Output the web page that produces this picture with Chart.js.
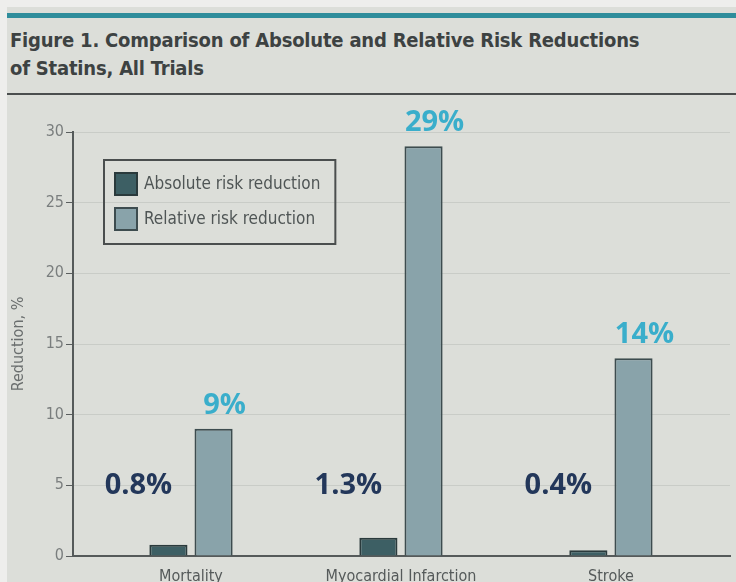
<!DOCTYPE html>
<html>
<head>
<meta charset="utf-8">
<script src="https://cdn.jsdelivr.net/npm/chart.js@4"></script>
<style>
  html, body { margin: 0; padding: 0; }
  body { width: 736px; height: 582px; background: #eeeeec; position: relative; overflow: hidden; }
  #panel { position: absolute; left: 7px; top: 7px; right: 0; bottom: 0; background: #dcded9; }
  #topbar { position: absolute; left: 7px; right: 0; top: 13px; height: 5px; background: #2f8d9b; }
  #title { position: absolute; left: 10px; top: 26px; margin: 0; white-space: nowrap; letter-spacing: -0.2px;
    font: bold 20px/28px "Liberation Sans Narrow", "DejaVu Sans Condensed", sans-serif; color: #3d4242; }
  #rule { position: absolute; left: 7px; right: 0; top: 93px; height: 2px; background: #4b4e4e; }
  #wrap { position: absolute; left: 0; top: 96px; width: 736px; height: 486px; }
</style>
</head>
<body>
<div id="panel"></div>
<div id="topbar"></div>
<h1 id="title">Figure 1. Comparison of Absolute and Relative Risk Reductions<br>of Statins, All Trials</h1>
<div id="rule"></div>
<div id="wrap"><canvas id="chart" width="736" height="486"></canvas></div>
<script>
// statin trial results, % reduction
const categories = ["Mortality", "Myocardial Infarction", "Stroke"];
const seriesNames = ["Absolute risk reduction", "Relative risk reduction"];
const absoluteReduction = [0.8, 1.3, 0.4];
const relativeReduction = [9, 29, 14];
const yTicks = [0, 5, 10, 15, 20, 25, 30];

const narrow = '"Liberation Sans Narrow", "DejaVu Sans Condensed", sans-serif';
const absLabelLevel = 5; // absolute labels sit on the 5% line

function toPoints(values){
    return values.map((v, i) => ({x: i, y: v}));
}

// legend box drawn inside the plot, top left
const boxLegend = {
    id: "boxLegend",
    afterDraw(chart){
        const ctx = chart.ctx;
        const area = chart.chartArea;
        const x0 = area.left + 31, y0 = area.top + 28;
        ctx.save();
        ctx.font = "17px " + narrow;
        let textW = 0;
        chart.data.datasets.forEach(ds => { textW = Math.max(textW, ctx.measureText(ds.label).width); });
        const w = 40 + textW + 15, h = 84;
        ctx.lineWidth = 2;
        ctx.strokeStyle = "#4a4e4e";
        ctx.strokeRect(x0, y0, w, h);
        chart.data.datasets.forEach((ds, i) => {
            const sy = y0 + 13 + i * 35;
            ctx.fillStyle = ds.backgroundColor;
            ctx.fillRect(x0 + 11, sy, 22, 22);
            ctx.lineWidth = 2;
            ctx.strokeStyle = ds.borderColor;
            ctx.strokeRect(x0 + 11, sy, 22, 22);
            ctx.fillStyle = "#4f5555";
            ctx.textBaseline = "middle";
            ctx.fillText(ds.label, x0 + 40, sy + 12);
        });
        ctx.restore();
    }
};

// percentage labels next to the bars
const valueLabels = {
    id: "valueLabels",
    afterDatasetsDraw(chart){
        const ctx = chart.ctx;
        const yScale = chart.scales.y;
        ctx.save();
        ctx.font = 'bold 29px "Open Sans", sans-serif';
        ctx.textAlign = "center";
        ctx.textBaseline = "middle";
        chart.getDatasetMeta(0).data.forEach((bar, i) => {
            ctx.fillStyle = "#23375a";
            ctx.fillText(absoluteReduction[i] + "%", bar.x - 30, yScale.getPixelForValue(absLabelLevel));
        });
        chart.getDatasetMeta(1).data.forEach((bar, i) => {
            ctx.fillStyle = "#3aaecb";
            ctx.fillText(relativeReduction[i] + "%", bar.x + 11, bar.y - 23);
        });
        ctx.restore();
    }
};

new Chart(document.getElementById("chart"), {
    type: "bar",
    data: {
        datasets: [{
            label: seriesNames[0],
            data: toPoints(absoluteReduction),
            backgroundColor: "#3d5f64",
            borderColor: "#2a3a3c",
            borderWidth: 2
        }, {
            label: seriesNames[1],
            data: toPoints(relativeReduction),
            backgroundColor: "#89a3aa",
            borderColor: "#3d4c4f",
            borderWidth: 2
        }]
    },
    options: {
        responsive: false,
        animation: false,
        categoryPercentage: 0.43,
        barPercentage: 0.845,
        layout: { padding: { top: 36, right: 6, left: 0, bottom: 0 } },
        plugins: {
            legend: { display: false },
            tooltip: { enabled: false }
        },
        scales: {
            x: {
                type: "linear",
                min: -0.562,
                max: 2.567,
                offset: false,
                grid: { display: false, offset: false },
                border: { color: "#555a5a", width: 2 },
                afterBuildTicks: scale => { scale.ticks = categories.map((c, i) => ({value: i})); },
                afterFit: scale => { scale.height = 26; },
                ticks: {
                    callback: v => categories[v],
                    font: { family: narrow, size: 16 },
                    color: "#555a5a",
                    padding: 3,
                    maxRotation: 0,
                    autoSkip: false
                }
            },
            y: {
                min: 0,
                max: 30,
                afterBuildTicks: scale => { scale.ticks = yTicks.map(v => ({value: v})); },
                afterFit: scale => { scale.width = 73; },
                grid: { color: "#c9ccc7", tickColor: "#5a5e5e", tickLength: 7, lineWidth: 1 },
                border: { color: "#555a5a", width: 2 },
                ticks: {
                    font: { family: narrow, size: 16 },
                    color: "#7a7e7e",
                    padding: 2
                },
                title: {
                    display: true,
                    text: "Reduction, %",
                    font: { family: narrow, size: 16 },
                    color: "#6a6e6e",
                    padding: { top: 9, bottom: 0 }
                }
            }
        }
    },
    plugins: [boxLegend, valueLabels]
});
</script>
</body>
</html>
